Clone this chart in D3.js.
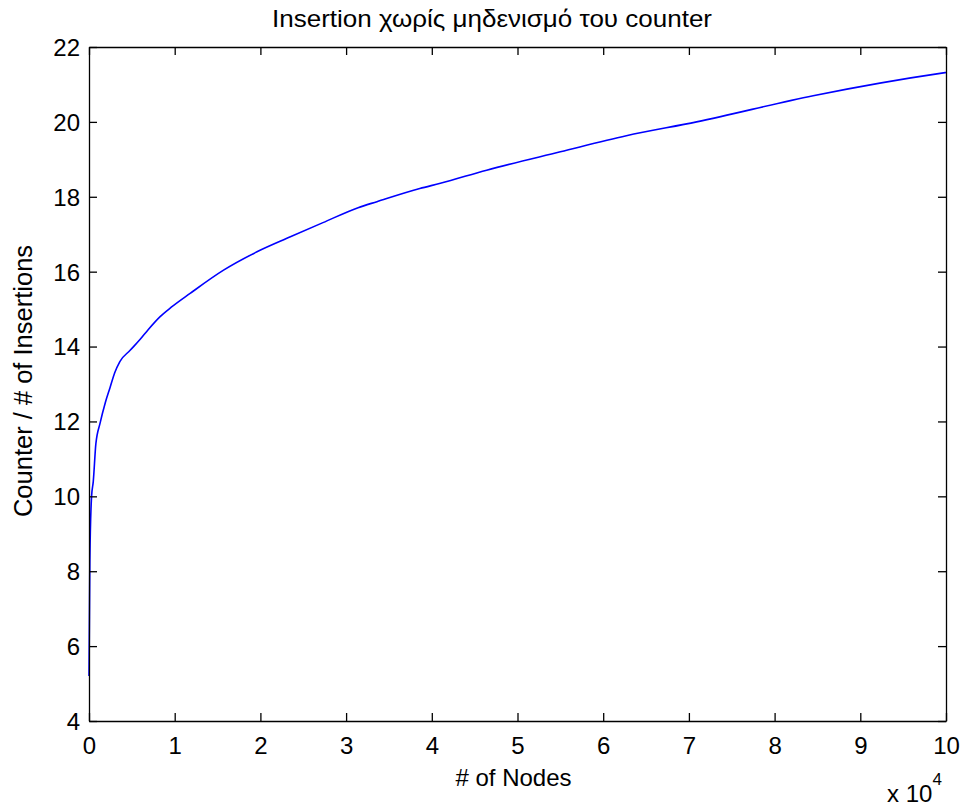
<!DOCTYPE html>
<html>
<head>
<meta charset="utf-8">
<script src="https://cdn.jsdelivr.net/npm/d3@7"></script>
<style>
  html, body { margin: 0; padding: 0; background: #fff; }
  text { font-family: "Liberation Sans", Arial, Helvetica, sans-serif; fill: #000; }
</style>
</head>
<body>
<svg id="chart" width="965" height="809"></svg>
<script>
// ---- data ----
const nodes = [1, 100, 300, 500, 800, 1300, 1900, 2450, 3000, 3600, 4800, 6000, 6900, 8300, 9600,
  11800, 15700, 19600, 23500, 27300, 31400, 33600, 38600, 41000, 46400, 55000, 62700, 70900,
  84500, 99700, 100000];
const ratio = [5.2, 8.3, 10.0, 10.4, 11.4, 11.96, 12.5, 12.9, 13.3, 13.6, 13.9, 14.2, 14.45, 14.8, 15.05,
  15.42, 16.04, 16.53, 16.93, 17.31, 17.71, 17.87, 18.22, 18.36, 18.71, 19.2, 19.63, 20.0,
  20.7, 21.31, 21.32];
const xTicks = [0, 10000, 20000, 30000, 40000, 50000, 60000, 70000, 80000, 90000, 100000];
const yTicks = [4, 6, 8, 10, 12, 14, 16, 18, 20, 22];
const titleText = "Insertion χωρίς μηδενισμό του counter";
const xLabelText = "# of Nodes";
const yLabelText = "Counter / # of Insertions";

// ---- layout ----
const svg = d3.select("#chart");
const L = 89, R = 946, T = 47, B = 721;
const x = d3.scaleLinear().domain([0, 100000]).range([L, R]);
const y = d3.scaleLinear().domain([4, 22]).range([B, T]);
const tickLen = 8;
const fs = 24;

// line
const data = nodes.map((n, i) => ({ n, v: ratio[i] }));
svg.append("path")
  .datum(data)
  .attr("fill", "none")
  .attr("stroke", "#0000ff")
  .attr("stroke-width", 1.6)
  .attr("d", d3.line().x(d => x(d.n)).y(d => y(d.v)).curve(d3.curveMonotoneX));

// axes with inward ticks (box style)
const gB = svg.append("g").attr("transform", `translate(0,${B})`)
  .call(d3.axisBottom(x).tickValues(xTicks).tickSizeInner(-tickLen).tickSizeOuter(0).tickPadding(16)
    .tickFormat(d => d / 10000));
const gT = svg.append("g").attr("transform", `translate(0,${T})`)
  .call(d3.axisTop(x).tickValues(xTicks).tickSizeInner(-tickLen).tickSizeOuter(0).tickFormat(""));
const gL = svg.append("g").attr("transform", `translate(${L},0)`)
  .call(d3.axisLeft(y).tickValues(yTicks).tickSizeInner(-tickLen).tickSizeOuter(0).tickPadding(18));
const gR = svg.append("g").attr("transform", `translate(${R},0)`)
  .call(d3.axisRight(y).tickValues(yTicks).tickSizeInner(-tickLen).tickSizeOuter(0).tickFormat(""));

[gB, gT, gL, gR].forEach(g => {
  g.selectAll("path.domain").attr("stroke", "#000").attr("stroke-width", 1.3);
  g.selectAll(".tick line").attr("stroke", "#000").attr("stroke-width", 1.3);
  g.selectAll(".tick text").style("font-family", '"Liberation Sans", Arial, sans-serif')
    .style("font-size", fs + "px").attr("fill", "#000");
});
gB.selectAll(".tick text").attr("dy", null).attr("y", 33);
gL.selectAll(".tick text").attr("x", -9).attr("dy", "0.35em");

// title
svg.append("text").attr("x", 492).attr("y", 27).attr("text-anchor", "middle")
  .style("font-size", "24px")
  .attr("textLength", 440).attr("lengthAdjust", "spacingAndGlyphs")
  .text(titleText);

// x label
svg.append("text").attr("x", (L + R) / 2 - 4).attr("y", 786).attr("text-anchor", "middle")
  .style("font-size", fs + "px").text(xLabelText);

// y label
svg.append("text").attr("transform", `translate(32,${(T + B) / 2 - 3}) rotate(-90)`)
  .attr("text-anchor", "middle").style("font-size", "25.5px").text(yLabelText);

// exponent label
const ex = svg.append("text").attr("x", 887).attr("y", 802).style("font-size", fs + "px");
ex.append("tspan").text("x 10");
ex.append("tspan").attr("dy", -17).style("font-size", "17px").text("4");
</script>
</body>
</html>
